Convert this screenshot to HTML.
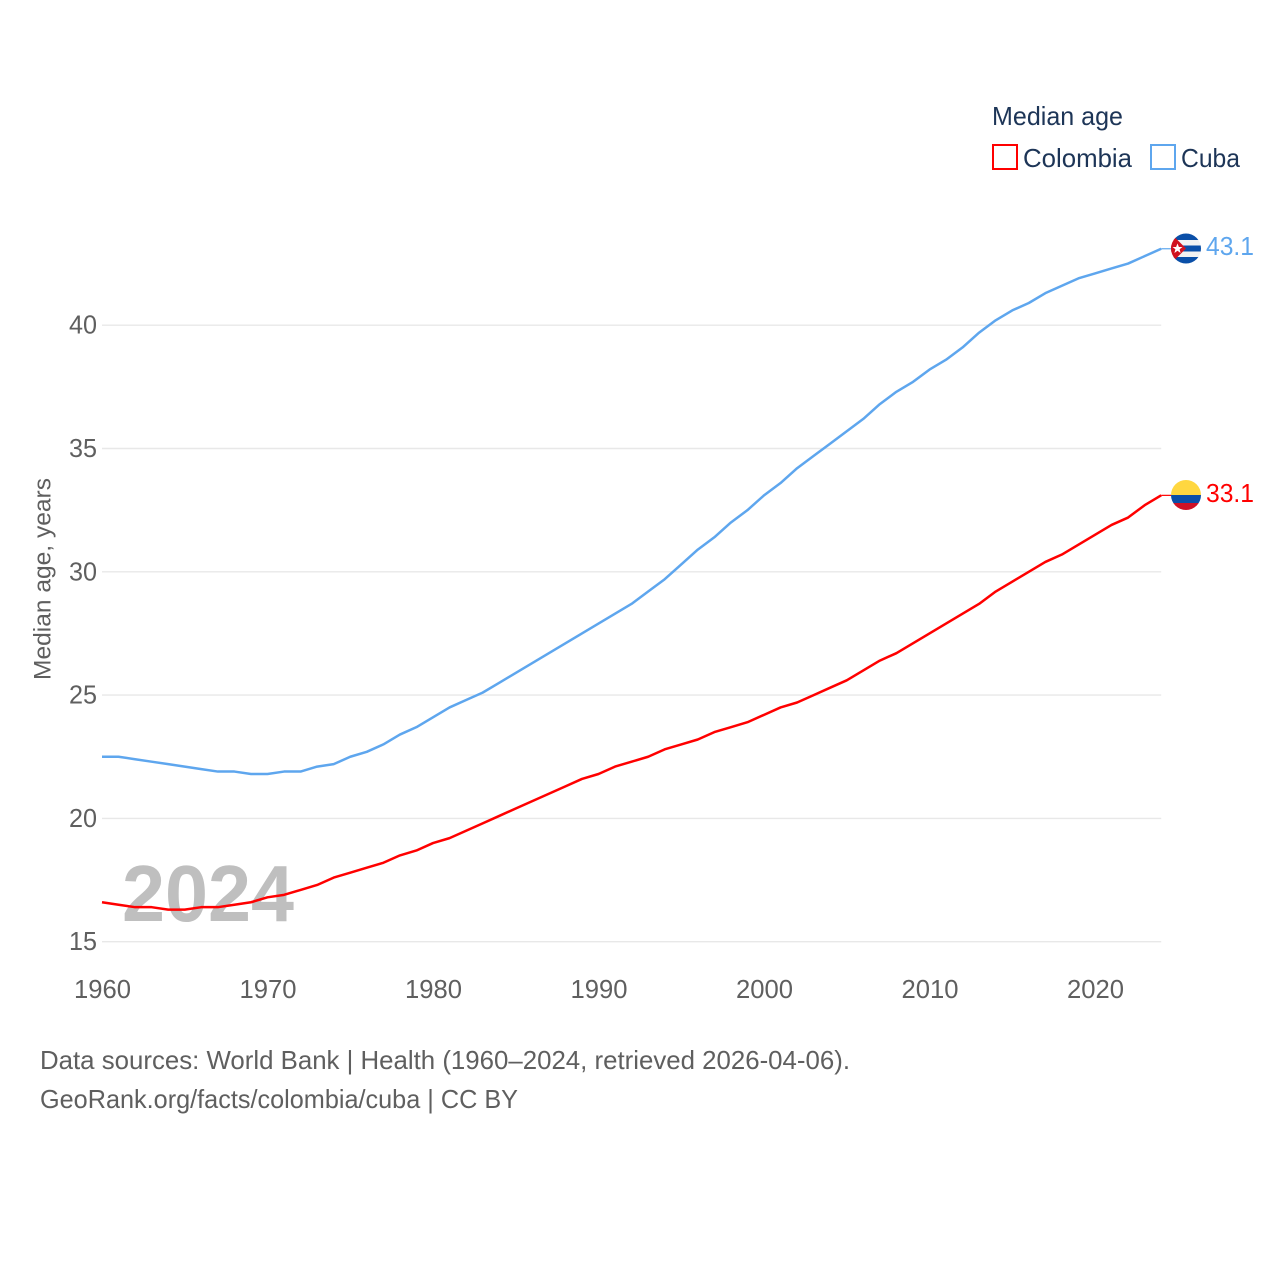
<!DOCTYPE html>
<html lang="en">
<head>
<meta charset="utf-8">
<title>Median age: Colombia and Cuba</title>
<style>
html,body{margin:0;padding:0;background:#fff;width:1280px;height:1280px;overflow:hidden}
svg{display:block;font-family:"Liberation Sans",sans-serif}
</style>
</head>
<body>
<svg id="chart" xmlns="http://www.w3.org/2000/svg" width="1280" height="1280" viewBox="0 0 1280 1280">
  <defs>
    <clipPath id="cuba-clip"><circle cx="1186" cy="248.5" r="15"/></clipPath>
    <clipPath id="colombia-clip"><circle cx="1186" cy="495" r="15"/></clipPath>
  </defs>
  <rect width="1280" height="1280" fill="#fff"/>
  <g id="grid"></g>
  <g id="yticks"></g>
  <g id="xticks"></g>
  <text x="122" y="921" font-size="80" font-weight="bold" fill="#bfbfbf" textLength="172" lengthAdjust="spacingAndGlyphs">2024</text>
  <g id="lines"></g>

  <text transform="translate(50.5,680) rotate(-90)" font-size="24.5" fill="#5f5f5f" textLength="202" lengthAdjust="spacingAndGlyphs">Median age, years</text>

  <g>
    <text x="992" y="125" font-size="26" fill="#1d3557" textLength="131" lengthAdjust="spacingAndGlyphs">Median age</text>
    <rect x="993" y="145" width="24" height="24" fill="#fff" stroke="#ff0000" stroke-width="2"/>
    <text x="1023" y="167" font-size="26" fill="#1d3557" textLength="109" lengthAdjust="spacingAndGlyphs">Colombia</text>
    <rect x="1151" y="145" width="24" height="24" fill="#fff" stroke="#5ea6ee" stroke-width="2"/>
    <text x="1181" y="167" font-size="26" fill="#1d3557" textLength="59" lengthAdjust="spacingAndGlyphs">Cuba</text>
  </g>

  <g clip-path="url(#cuba-clip)">
    <rect x="1171" y="233.5" width="30" height="30" fill="#f2f2f2"/>
    <rect x="1171" y="233.5" width="30" height="6.5" fill="#0a4fa8"/>
    <rect x="1171" y="245.5" width="30" height="6" fill="#0a4fa8"/>
    <rect x="1171" y="257" width="30" height="6.5" fill="#0a4fa8"/>
    <polygon points="1171,233.5 1171,263.5 1186,248.5" fill="#d0121f"/>
    <polygon points="1177.5,243.5 1178.9,247 1182.5,247 1179.6,249.3 1180.6,253 1177.5,250.8 1174.4,253 1175.4,249.3 1172.5,247 1176.1,247" fill="#fff"/>
  </g>
  <g clip-path="url(#colombia-clip)">
    <rect x="1171" y="480" width="30" height="15" fill="#ffd740"/>
    <rect x="1171" y="495" width="30" height="8" fill="#0a4fa8"/>
    <rect x="1171" y="503" width="30" height="7" fill="#ce1126"/>
  </g>
  <text id="label-cuba" x="1206" y="255" font-size="26" fill="#5ea6ee" textLength="48" lengthAdjust="spacingAndGlyphs">43.1</text>
  <text id="label-colombia" x="1206" y="502" font-size="26" fill="#ff0000" textLength="48" lengthAdjust="spacingAndGlyphs">33.1</text>

  <text x="40" y="1069" font-size="26" fill="#5f5f5f" textLength="810" lengthAdjust="spacingAndGlyphs">Data sources: World Bank | Health (1960–2024, retrieved 2026-04-06).</text>
  <text x="40" y="1108" font-size="26" fill="#5f5f5f" textLength="478" lengthAdjust="spacingAndGlyphs">GeoRank.org/facts/colombia/cuba | CC BY</text>
</svg>
<script>
const years = [1960,1961,1962,1963,1964,1965,1966,1967,1968,1969,1970,1971,1972,1973,1974,1975,1976,1977,1978,1979,1980,1981,1982,1983,1984,1985,1986,1987,1988,1989,1990,1991,1992,1993,1994,1995,1996,1997,1998,1999,2000,2001,2002,2003,2004,2005,2006,2007,2008,2009,2010,2011,2012,2013,2014,2015,2016,2017,2018,2019,2020,2021,2022,2023,2024];
const cubaValues = [22.5,22.5,22.4,22.3,22.2,22.1,22.0,21.9,21.9,21.8,21.8,21.9,21.9,22.1,22.2,22.5,22.7,23.0,23.4,23.7,24.1,24.5,24.8,25.1,25.5,25.9,26.3,26.7,27.1,27.5,27.9,28.3,28.7,29.2,29.7,30.3,30.9,31.4,32.0,32.5,33.1,33.6,34.2,34.7,35.2,35.7,36.2,36.8,37.3,37.7,38.2,38.6,39.1,39.7,40.2,40.6,40.9,41.3,41.6,41.9,42.1,42.3,42.5,42.8,43.1];
const colombiaValues = [16.6,16.5,16.4,16.4,16.3,16.3,16.4,16.4,16.5,16.6,16.8,16.9,17.1,17.3,17.6,17.8,18.0,18.2,18.5,18.7,19.0,19.2,19.5,19.8,20.1,20.4,20.7,21.0,21.3,21.6,21.8,22.1,22.3,22.5,22.8,23.0,23.2,23.5,23.7,23.9,24.2,24.5,24.7,25.0,25.3,25.6,26.0,26.4,26.7,27.1,27.5,27.9,28.3,28.7,29.2,29.6,30.0,30.4,30.7,31.1,31.5,31.9,32.2,32.7,33.1];
const yTickValues = [15,20,25,30,35,40];
const xTickValues = [1960,1970,1980,1990,2000,2010,2020];

const NS = 'http://www.w3.org/2000/svg';
function xScale(year) { return 102 + (year - 1960) * 16.55; }
function yScale(age) { return 941.7 - (age - 15) * 24.66; }
function make(tag, parent) {
  const el = document.createElementNS(NS, tag);
  document.getElementById(parent).appendChild(el);
  return el;
}

yTickValues.forEach(function (v) {
  const line = make('line', 'grid');
  
  
  line.setAttribute('x1', 102);
  line.setAttribute('x2', xScale(2024));
  line.setAttribute('y1', yScale(v));
  line.setAttribute('y2', yScale(v));
  line.setAttribute('stroke', '#e8e8e8');
  line.setAttribute('stroke-width', '1.4');

  const t = make('text', 'yticks');
  
  
  t.setAttribute('x', 69);
  t.setAttribute('y', yScale(v) + 8.5);
  t.setAttribute('font-size', '26');
  t.setAttribute('fill', '#5f5f5f');
  t.setAttribute('textLength', '28');
  t.setAttribute('lengthAdjust', 'spacingAndGlyphs');
  t.textContent = String(v);
});

xTickValues.forEach(function (v) {
  const t = make('text', 'xticks');
  
  
  t.setAttribute('x', xScale(v) - 28);
  t.setAttribute('y', 998);
  t.setAttribute('font-size', '26');
  t.setAttribute('fill', '#5f5f5f');
  t.setAttribute('textLength', '57');
  t.setAttribute('lengthAdjust', 'spacingAndGlyphs');
  t.textContent = String(v);
});

function drawSeries(values, color, name) {
  const last = values.length - 1;
  const pts = values.map(function (v, i) {
    return xScale(years[i]).toFixed(2) + ',' + yScale(v).toFixed(2);
  }).join(' ');
  const line = make('polyline', 'lines');
  
  
  line.setAttribute('points', pts);
  line.setAttribute('fill', 'none');
  line.setAttribute('stroke', color);
  line.setAttribute('stroke-width', '2.5');
  line.setAttribute('stroke-linejoin', 'round');

  const lead = make('line', 'lines');
  
  
  lead.setAttribute('x1', xScale(years[last]));
  lead.setAttribute('x2', xScale(years[last]) + 10);
  lead.setAttribute('y1', yScale(values[last]));
  lead.setAttribute('y2', yScale(values[last]));
  lead.setAttribute('stroke', color);
  lead.setAttribute('stroke-width', '1.2');
}

drawSeries(cubaValues, '#5ea6ee', 'cuba');
drawSeries(colombiaValues, '#ff0000', 'colombia');
</script>
</body>
</html>
